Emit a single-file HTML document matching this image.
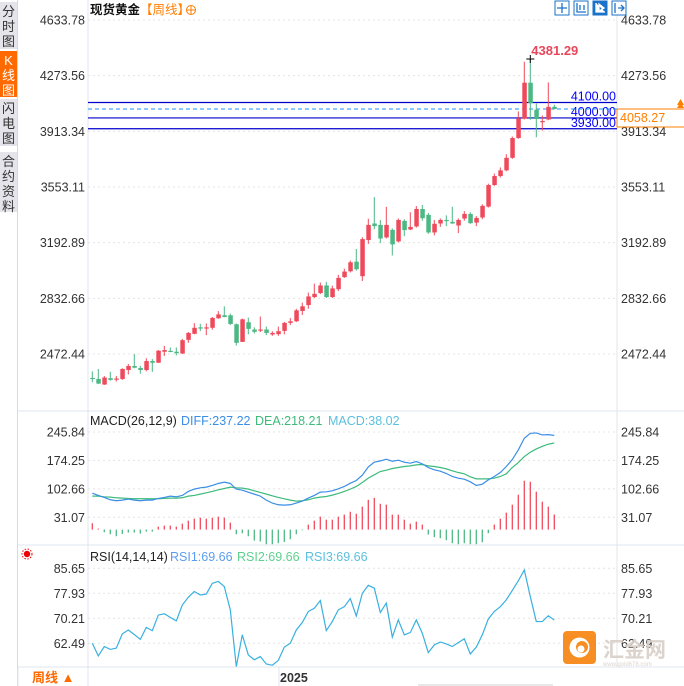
<!DOCTYPE html>
<html><head><meta charset="utf-8"><style>
html,body{margin:0;padding:0;background:#fff;}
body{width:684px;height:686px;overflow:hidden;position:relative;font-family:"Liberation Sans","Noto Sans CJK SC",sans-serif;}
.tab{position:absolute;left:0;width:17px;background:#e4e4ea;color:#333;font-size:13px;line-height:15px;text-align:center;}
</style></head><body>
<div style="position:absolute;left:0;top:0;width:17px;height:686px;border-right:1px solid #d8d8e0;background:#fff"></div>
<div class="tab" style="top:2px;height:45px;padding-top:2px">分<br>时<br>图</div>
<div class="tab" style="top:51px;height:44px;background:#ff6a00;color:#fff;padding-top:2px">K<br>线<br>图</div>
<div class="tab" style="top:99px;height:45px;padding-top:2px">闪<br>电<br>图</div>
<div class="tab" style="top:152px;height:58px;padding-top:2px">合<br>约<br>资<br>料</div>
<svg id="chart" width="684" height="686" style="position:absolute;left:0;top:0" xmlns="http://www.w3.org/2000/svg" font-family="Liberation Sans, Noto Sans CJK SC, sans-serif"></svg>
<script>
// ---- price data (weekly) ----
const opens=[2318,2311,2275,2316,2311,2311,2369,2395,2382,2369,2427,2416,2487,2493,2487,2476,2564,2603,2645,2642,2642,2704,2723,2723,2665,2551,2678,2631,2628,2631,2599,2601,2622,2674,2684,2751,2789,2841,2867,2916,2841,2892,2970,3008,3070,2976,3210,3317,3308,3227,3276,3201,3334,3278,3298,3411,3373,3259,3317,3340,3328,3304,3349,3379,3323,3356,3426,3566,3624,3661,3742,3870,3995,4228,4053,3975,3990,4072];
const closes=[2315,2281,2320,2305,2314,2376,2395,2384,2369,2427,2416,2494,2498,2490,2478,2562,2609,2642,2642,2645,2706,2729,2712,2667,2545,2697,2635,2616,2631,2609,2609,2620,2674,2684,2755,2781,2845,2862,2916,2841,2897,2965,3006,3066,3021,3216,3308,3300,3220,3308,3182,3340,3274,3295,3411,3351,3259,3315,3340,3337,3317,3340,3379,3319,3353,3431,3566,3624,3661,3742,3870,3995,4228,4095,3993,3980,4072,4058.27];
const highs=[2360,2376,2330,2358,2330,2380,2408,2472,2396,2445,2440,2498,2525,2515,2515,2570,2615,2672,2668,2670,2712,2750,2781,2734,2670,2702,2708,2645,2715,2650,2620,2650,2680,2705,2765,2805,2870,2928,2935,2940,2915,2985,3025,3077,3152,3228,3348,3488,3340,3425,3285,3350,3345,3390,3430,3437,3385,3340,3350,3370,3425,3350,3397,3390,3365,3442,3575,3640,3680,3765,3880,4042,4364,4381.29,4095,4016,4230,4085];
const lows=[2290,2278,2272,2300,2295,2305,2340,2380,2345,2360,2357,2414,2460,2485,2463,2472,2545,2600,2620,2595,2630,2700,2710,2660,2527,2550,2600,2605,2615,2595,2590,2590,2600,2660,2680,2725,2765,2835,2860,2835,2835,2880,2965,3000,3012,2945,3185,3280,3190,3220,3110,3195,3235,3275,3290,3335,3250,3240,3295,3300,3315,3255,3335,3315,3300,3345,3420,3560,3615,3655,3735,3865,3990,3988,3875,3918,3985,4055];
const priceTicks=[4633.78,4273.56,3913.34,3553.11,3192.89,2832.66,2472.44];
const levelLines=[4100,4000,3930];
const lastPrice=4058.27;
// ---- MACD ----
const diff=[91.8,86,80.9,75.1,72.6,74.2,76.8,74.2,72.6,74.2,74.2,78.4,80.9,84.3,82.6,86,96,101.9,105.2,106.9,111.1,116.1,119.4,116.1,101.9,99.3,94.3,89.3,84.3,74.2,66.7,62.5,61.7,62.5,66.7,71.7,79.3,86,94.3,95.2,97.7,102.7,108.6,116.9,123.6,137,157.9,169.7,173,177.2,172.2,174.7,169.7,167.2,171.3,165.5,156.3,150.4,147.1,141.2,133.7,129.5,127,120.3,111.1,114.4,125.3,133.7,143.7,158.8,176.4,200.6,229.9,242.5,243.3,238.3,239.1,237.22];
const dea=[84.3,84.3,82.6,81.8,80.1,79.3,78.4,77.6,77.6,77.6,77.6,77.6,78.4,79.3,79.3,80.1,84.3,86,89.3,92.7,96,100.2,103.5,106.9,105.2,104.4,101.9,97.7,93.5,89.3,85.1,80.9,77.6,74.2,71.7,72.6,75.1,79.3,81.8,83.4,86.8,91,96,101.9,108.6,118.6,129.5,137.9,146.2,149.6,153.8,156.3,158.8,160.4,163,163.8,160.4,158.8,156.3,152.9,147.9,143.7,140.4,132.8,127.8,127.8,127.8,129.5,133.7,140.4,156.3,168.8,183.9,194.8,203.1,209.8,214.9,218.21];
const macdHist=[16,2.5,-6.7,-11.7,-16.7,-11,-7.5,-7.5,-10,-5,-5,7.5,10,10,7.5,15,22.6,27.6,30,27.6,30,32.6,30,17.6,-11.7,-9.2,-16.7,-27.6,-30,-36.8,-36.8,-34.3,-31,-24.3,-11.7,-1.7,12.6,22.6,32.6,25,25,32.6,37.7,45,40,57.8,75,80,65,62.8,37.7,37.7,25,15,20,12.6,-12.6,-19,-21.8,-26.8,-34.3,-36.8,-34.3,-36.8,-36.8,-31.8,-9.2,12.6,27.6,42.7,62.8,87.9,123,120.5,95.4,70.3,57.8,38.02];
const macdTicks=[245.84,174.25,102.66,31.07];
// ---- RSI ----
const rsi=[62.5,58.6,61.5,60.6,61.0,65.4,66.6,65.2,63.7,67.4,66.4,71.2,71.6,70.5,69.4,74.3,76.7,78.5,77.4,77.7,81.0,81.6,80.0,72.8,55.3,65.1,58.9,57.4,58.4,56.1,55.7,57.2,61.3,62.5,66.6,68.9,72.3,73.3,75.7,66.4,69.2,72.8,73.8,76.3,70.9,77.9,80.4,79.5,72.0,74.9,64.4,69.7,65.1,65.8,69.7,65.6,59.6,62.0,62.9,62.3,61.5,62.7,63.9,59.2,61.3,65.1,70.0,72.3,73.8,75.9,78.8,81.8,85.1,76.9,69.2,69.2,71.0,69.66];
const rsiTicks=[85.65,77.93,70.21,62.49];

const NS="http://www.w3.org/2000/svg";
const svg=document.getElementById('chart');
function mk(tag,attrs,parent){const e=document.createElementNS(NS,tag);for(const k in attrs)e.setAttribute(k,attrs[k]);(parent||svg).appendChild(e);return e;}
function txt(x,y,s,attrs){const e=mk('text',Object.assign({x:x,y:y,'font-size':12.5,fill:'#333'},attrs||{}));e.textContent=s;return e;}
const L=88,R=617;
const xAt=i=>92.3+6*i;
const yP=p=>20+(4633.78-p)*0.15454;
const yM=v=>529.6-v*0.3972;
const yR=v=>568.3+(85.65-v)*3.238;

// frame lines
let e;
e=mk('line',{x1:L,y1:0,x2:L,y2:686,stroke:'#dfe6ee'});
e=mk('line',{x1:R,y1:0,x2:R,y2:667,stroke:'#e6e6e6'});
e=mk('line',{x1:18,y1:411,x2:684,y2:411,stroke:'#dfe6ee'});
e=mk('line',{x1:18,y1:545,x2:684,y2:545,stroke:'#dfe6ee'});
e=mk('line',{x1:18,y1:667,x2:684,y2:667,stroke:'#dfe6ee'});

// price grid & ticks
priceTicks.forEach(t=>{const y=yP(t);
 e=mk('line',{x1:L,y1:y,x2:R,y2:y,stroke:'#e4e4e4','stroke-dasharray':'2,3'});
 e=txt(85,y+4.5,t.toFixed(2),{'text-anchor':'end'});
 e=txt(621,y+4.5,t.toFixed(2));
});
// level lines
levelLines.forEach(v=>{const y=yP(v);
 e=mk('line',{x1:L,y1:y,x2:R,y2:y,stroke:'#0000cc','stroke-width':1.2});
 e=txt(616,y-2,v.toFixed(2),{'text-anchor':'end',fill:'#0000ff'});
});
{const y=yP(lastPrice);
 e=mk('line',{x1:L,y1:y,x2:R,y2:y,stroke:'#1e90ff','stroke-dasharray':'4,3'});
 e=mk('path',{d:`M617 ${y} H684 M617 ${y} V${y+18} H684`,stroke:'#ff7f00',fill:'none'});
 e=txt(620,y+13,lastPrice.toFixed(2),{fill:'#ff7f00'});
 e=mk('path',{d:`M677 ${y-1} L680.5 ${y-7} L684 ${y-1} Z M677 ${y-4} L680.5 ${y-10} L684 ${y-4}`,fill:'#ff7f00'});
}
// candles
for(let i=0;i<opens.length;i++){
 const up=closes[i]>=opens[i];const c=up?'#ef4a5c':'#4cb884';const x=xAt(i);
 e=mk('line',{x1:x,y1:yP(highs[i]),x2:x,y2:yP(lows[i]),stroke:c,'stroke-width':1});
 
 
 const y1=yP(Math.max(opens[i],closes[i])),y2=yP(Math.min(opens[i],closes[i]));
 e=mk('rect',{x:x-2,y:y1,width:4.5,height:Math.max(1.2,y2-y1),fill:c});
 
 
}
// max marker
{const mi=highs.indexOf(Math.max(...highs));const x=xAt(mi),y=yP(highs[mi]);
 e=mk('path',{d:`M${x-4} ${y} H${x+4} M${x} ${y-4} V${y+4}`,stroke:'#000'});
 e=txt(x+1,y-4,highs[mi].toFixed(2),{fill:'#e8475b','font-size':13,'font-weight':'bold'});
}
// title
e=txt(90,14,'现货黄金',{fill:'#111','font-size':12.5,'font-weight':'bold'});
e=txt(140,14,'【周线】',{fill:'#ff7f00','font-size':12.5});
e=mk('g',{});
mk('circle',{cx:191,cy:10,r:4.5,fill:'none',stroke:'#ff7f00'},e);mk('path',{d:'M186.5 10H195.5M191 5.5V14.5',stroke:'#ff7f00'},e);
// toolbar icons
['crosshair','range','play','exit'].forEach((n,k)=>{const x=555+k*19;
 const g=mk('g',{});
 mk('rect',{x:x,y:1,width:14,height:14,fill:k==2?'#1a73c9':'#fff',stroke:'#1a73c9'},g);
 const col=k==2?'#fff':'#1a73c9';
 const paths=['M'+(x+7)+' 3V13M'+(x+2)+' 8H'+(x+12),'M'+(x+3)+' 3V12H'+(x+12)+'M'+(x+6)+' 5V10M'+(x+10)+' 5V10','M'+(x+3)+' 3V12H'+(x+12)+'M'+(x+6)+' 4L'+(x+11)+' 8L'+(x+6)+' 11Z','M'+(x+3)+' 3V13M'+(x+6)+' 8H'+(x+12)+'M'+(x+9)+' 5L'+(x+12)+' 8L'+(x+9)+' 11'];
 mk('path',{d:paths[k],stroke:col,fill:k==2?col:'none','stroke-width':1.3},g);
});

// MACD panel
e=txt(90,425,'MACD(26,12,9)',{fill:'#222'});
e=txt(181,425,'DIFF:237.22',{fill:'#3a8ee6'});
e=txt(255,425,'DEA:218.21',{fill:'#3dbb7b'});
e=txt(328,425,'MACD:38.02',{fill:'#5bc0de'});
macdTicks.forEach(t=>{const y=yM(t);
 e=mk('line',{x1:L,y1:y,x2:R,y2:y,stroke:'#e4e4e4','stroke-dasharray':'2,3'});
 e=txt(85,y+4.5,t.toFixed(2),{'text-anchor':'end'});
 e=txt(621,y+4.5,t.toFixed(2));
});
macdHist.forEach((v,i)=>{const x=xAt(i);
 e=mk('line',{x1:x,y1:yM(0),x2:x,y2:yM(v),stroke:v>=0?'#ef4a5c':'#4cb884','stroke-width':1.3});
 
 
});
e=mk('polyline',{points:dea.map((v,i)=>xAt(i)+','+yM(v)).join(' '),fill:'none',stroke:'#3dbb7b','stroke-width':1.2});
e=mk('polyline',{points:diff.map((v,i)=>xAt(i)+','+yM(v)).join(' '),fill:'none',stroke:'#3a8ee6','stroke-width':1.2});

// RSI panel
e=mk('g',{});
mk('circle',{cx:27,cy:554,r:3.2,fill:'#e00'},e);mk('circle',{cx:27,cy:554,r:5,fill:'none',stroke:'#e00','stroke-dasharray':'1.5,1.5'},e);
e=txt(90,561,'RSI(14,14,14)',{fill:'#222'});
e=txt(170,561,'RSI1:69.66',{fill:'#5b9ef0'});
e=txt(237,561,'RSI2:69.66',{fill:'#5fd08f'});
e=txt(305,561,'RSI3:69.66',{fill:'#5bc0de'});
rsiTicks.forEach(t=>{const y=yR(t);
 e=mk('line',{x1:L,y1:y,x2:R,y2:y,stroke:'#e4e4e4','stroke-dasharray':'2,3'});
 e=txt(85,y+4.5,t.toFixed(2),{'text-anchor':'end'});
 e=txt(621,y+4.5,t.toFixed(2));
});
mk('clipPath',{id:'rc'});mk('rect',{x:L,y:546,width:R-L,height:121},document.getElementById('rc'));
e=mk('polyline',{points:rsi.map((v,i)=>xAt(i)+','+yR(v)).join(' '),fill:'none',stroke:'#38b0e0','stroke-width':1.2,'clip-path':'url(#rc)'});

// x axis
e=mk('line',{x1:279,y1:667,x2:279,y2:686,stroke:'#dfe6ee'});
e=txt(280,682,'2025',{'font-weight':'bold','font-size':12.5,fill:'#333'});
e=mk('line',{x1:18,y1:667,x2:18,y2:686,stroke:'#dfe6ee'});
e=txt(32,682,'周线 ▲',{fill:'#ff6a00','font-weight':'bold','font-size':13});
e=mk('rect',{x:418,y:684,width:135,height:2,fill:'#e8e8e8'});

// watermark
e=mk('g',{opacity:0.9});
mk('rect',{x:563,y:631,width:33,height:33,rx:4,fill:'#f7820c'},e);
mk('circle',{cx:579.5,cy:647.5,r:10,fill:'#fff'},e);mk('circle',{cx:582,cy:647,r:6,fill:'#f7820c'},e);mk('circle',{cx:581,cy:649,r:3.5,fill:'#fff'},e);
{const t=txt(603,657,'汇金网',{fill:'#d9cfc8','font-size':21,'font-weight':'bold'},);e.appendChild(t);}
{const t=txt(603,666,'www.gold678.com',{fill:'#d9cfc8','font-size':6});e.appendChild(t);}
</script>
</body></html>
